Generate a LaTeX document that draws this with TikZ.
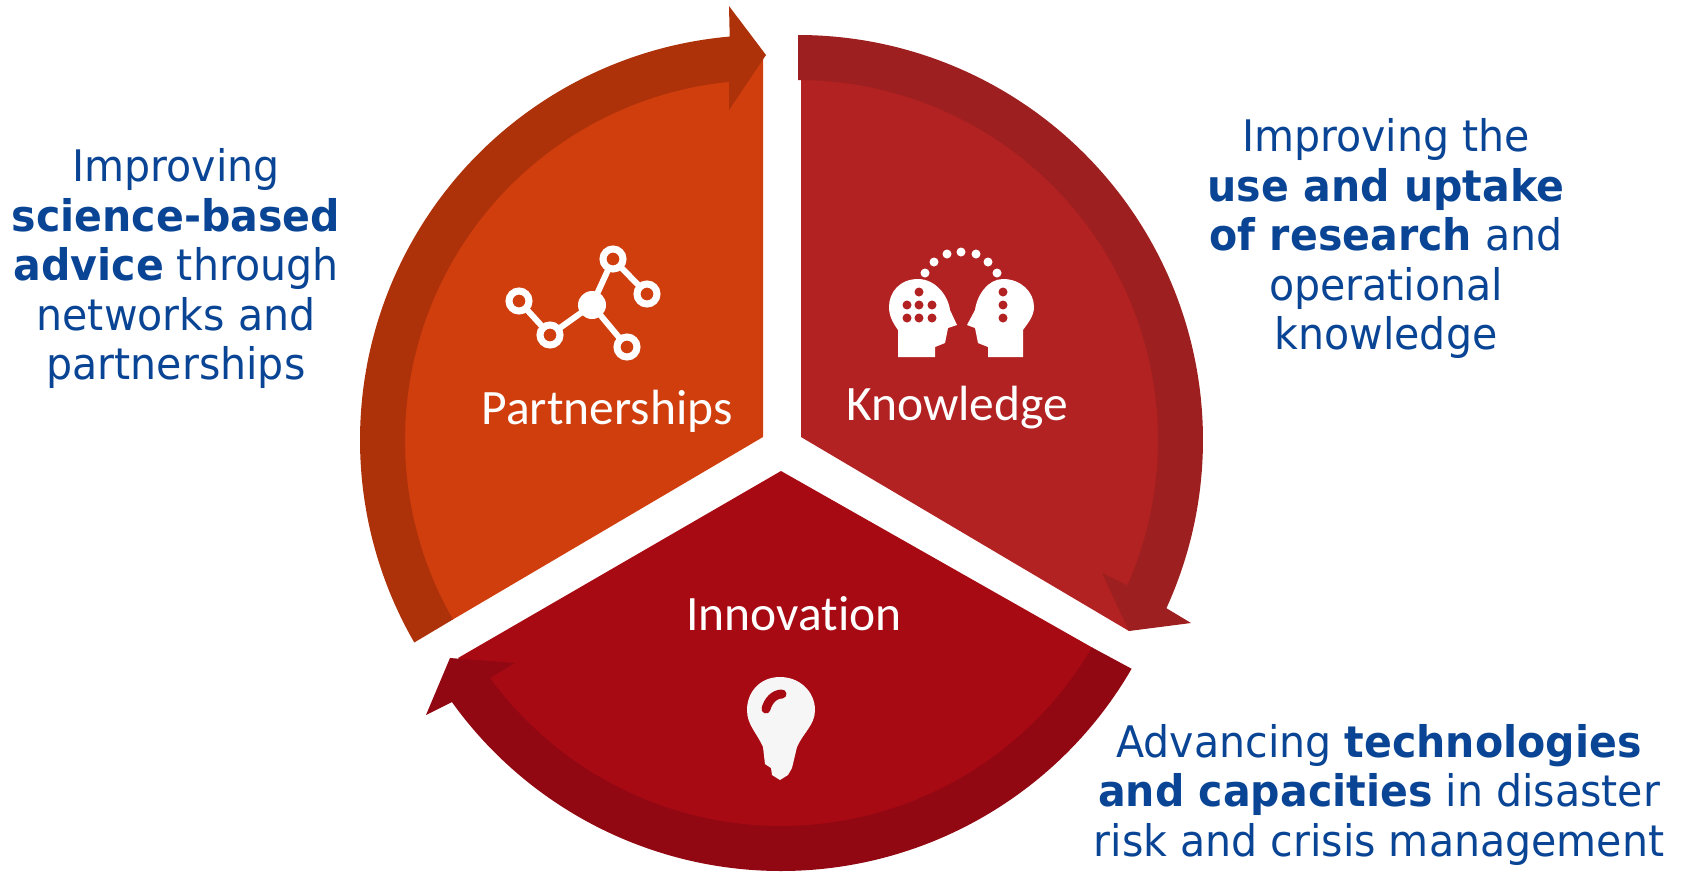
\documentclass[tikz,border=0pt]{standalone}
\usepackage{fontspec}
\setmainfont[FakeStretch=0.945]{DejaVu Sans}
\newfontfamily\labelfont[Ligatures=NoCommon]{Carlito}
\definecolor{orA}{HTML}{D03E0E}
\definecolor{orB}{HTML}{AD3209}
\definecolor{rdA}{HTML}{B22222}
\definecolor{rdB}{HTML}{9E1F1F}
\definecolor{crA}{HTML}{A80A14}
\definecolor{crB}{HTML}{910712}
\definecolor{bluetxt}{HTML}{0A4595}
\definecolor{bulbw}{HTML}{F6F6F6}
\tikzset{
  bluetext/.style={text=bluetxt,align=center,inner sep=0pt,font=\fontsize{43.5}{49.5}\selectfont},
  seglabel/.style={text=white,inner sep=0pt,font=\labelfont\fontsize{49.5}{52}\selectfont},
  ring/.style={circle,draw=white,line width=7pt,fill=orA,minimum size=20pt,inner sep=0pt},
  hub/.style={circle,fill=white,minimum size=28pt,inner sep=0pt},
  link/.style={draw=white,line width=6pt},
  wdot/.style={circle,fill=white,minimum size=9pt,inner sep=0pt},
  rdot/.style={circle,fill=rdA,minimum size=9pt,inner sep=0pt},
  cl/.style={shift={(765,440)}},
  cr/.style={shift={(798,440)}},
  cb/.style={shift={(781,466)}},
}
\begin{document}
\begin{tikzpicture}[x=1pt,y=1pt,yscale=-1]
\useasboundingbox (0,0) rectangle (1682,871);
% Partnerships sector
\fill[orA] (763,437) -- (763,58) -- (729,80)
  -- ([cl]264.9:361pt) arc[start angle=264.9,end angle=150.1,radius=361pt] -- cycle;
\fill[orB] ([cl]150:405pt) arc[start angle=150,end angle=265,radius=405pt]
  -- (729,6) -- (766,55) -- (729,110) -- (729,80)
  -- ([cl]264.9:360pt) arc[start angle=264.9,end angle=150.1,radius=360pt] -- cycle;
% Knowledge sector
\fill[rdA] (801,437) -- (801,70)
  -- ([cr]-89:361pt) arc[start angle=-89,end angle=23.8,radius=361pt]
  -- (1129,631) -- cycle;
\fill[rdB] ([cr]-90:405pt) arc[start angle=-90,end angle=24.54,radius=405pt]
  -- (1191,623) -- (1129,631) -- (1102,573) -- (1127,585)
  -- ([cr]23.8:360pt) arc[start angle=23.8,end angle=-90,radius=360pt] -- cycle;
% Innovation sector
\fill[crA] (781,471) -- (1093,648)
  -- ([cb]30.26:361pt) arc[start angle=30.26,end angle=143.93,radius=361pt]
  -- (458,658) -- cycle;
\fill[crB] ([cb]30.04:405pt) arc[start angle=30.04,end angle=144.35,radius=405pt]
  -- (426,715) -- (450,658) -- (515,663) -- (490,678)
  -- ([cb]143.93:360pt) arc[start angle=143.93,end angle=30.26,radius=360pt] -- cycle;
% Partnerships icon
\node[hub] (phub) at (592,305) {};
\draw[link] (519,301) coordinate (pa') -- (550,335) coordinate (pb') -- (phub.center) -- (613,259) coordinate (pc') -- (647,294) coordinate (pd');
\draw[link] (phub.center) -- (627,347) coordinate (pe');
\node[ring] (pa) at (pa') {};
\node[ring] (pb) at (pb') {};
\node[ring] (pc) at (pc') {};
\node[ring] (pd) at (pd') {};
\node[ring] (pe) at (pe') {};
% Knowledge icon
\fill[white] (918,279) .. controls (900,279) and (889,292) .. (889,307) .. controls (889,316) and (893,323) .. (898,330)
  -- (898,357) -- (935,357) -- (935,347) -- (945,343) -- (948,328) -- (957,325) -- (950,310)
  .. controls (948,295) and (935,279) .. (918,279) -- cycle;
\fill[white] (1003,279) .. controls (1021,279) and (1034,292) .. (1034,307) .. controls (1034,316) and (1028,323) .. (1023,330)
  -- (1023,357) -- (988,357) -- (988,347) -- (978,343) -- (975,328) -- (967,325) -- (975,310)
  .. controls (977,295) and (988,279) .. (1003,279) -- cycle;
\foreach \n/\x/\y in {1/925/273,2/934/262,3/947/254,4/961/252,5/976/254,6/988/262,7/997/273}
  \node[wdot] (kw\n) at (\x,\y) {};
\foreach \n/\x/\y in {1/919/292,2/907/305,3/919/305,4/932/305,5/907/318,6/919/318,7/932/318,8/1003/292,9/1003/305,10/1003/318}
  \node[rdot] (kr\n) at (\x,\y) {};
% Innovation icon
\fill[bulbw] (780,677) .. controls (760,677) and (747,692) .. (747,710) .. controls (747,725) and (757,733) .. (763,747)
  -- (765,764) -- (771,768) -- (772,775) -- (780,780) -- (788,775) -- (792,768) -- (797,747)
  .. controls (803,733) and (815,725) .. (815,710) .. controls (815,692) and (800,677) .. (780,677) -- cycle;
\draw[crA,line width=9pt,line cap=round] (782,694) .. controls (774,694) and (768,701) .. (766,709);
% Labels
\node[seglabel] (lpart) at (607,411) {Partnerships};
\node[seglabel] (lknow) at (957,408) {Knowledge};
\node[seglabel] (linno) at (794,614) {Innovation};
\node[bluetext] (tleft) at (176,268.5) {Improving\\\textbf{science-based}\\\textbf{advice} through\\networks and\\partnerships};
\node[bluetext] (tright) at (1386,238.5) {Improving the\\\textbf{use and uptake}\\\textbf{of research} and\\operational\\knowledge};
\node[bluetext] (tbottom) at (1379,794.5) {Advancing \textbf{technologies}\\\textbf{and capacities} in disaster\\risk and crisis management};
\end{tikzpicture}
\end{document}
